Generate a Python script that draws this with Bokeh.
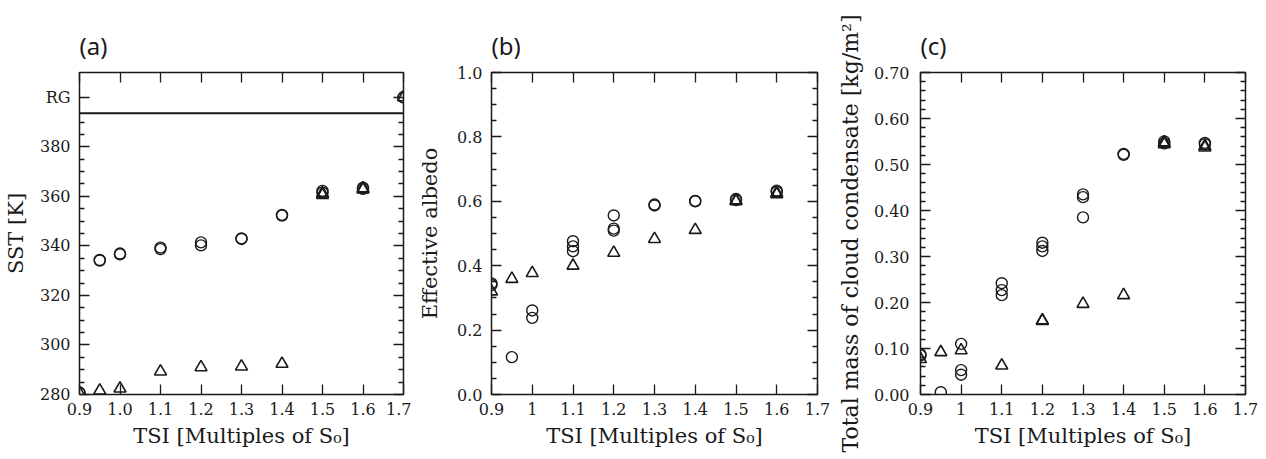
from bokeh.plotting import figure
from bokeh.layouts import row
from bokeh.models import FixedTicker, LinearAxis, Span, Range1d, CustomLabelingPolicy
from bokeh.embed import file_html
from bokeh.resources import INLINE

# ---------------- data ----------------
tsi_ticks = [0.9, 1.0, 1.1, 1.2, 1.3, 1.4, 1.5, 1.6, 1.7]
xtick_labels_a = ["0.9", "1.0", "1.1", "1.2", "1.3", "1.4", "1.5", "1.6", "1.7"]
xtick_labels_bc = ["0.9", "1", "1.1", "1.2", "1.3", "1.4", "1.5", "1.6", "1.7"]

# (a) SST [K]
sst_ticks = [280, 300, 320, 340, 360, 380, 400]
sst_tick_labels = ["280", "300", "320", "340", "360", "380", "RG"]
rg_threshold = 393.5
circ_x_a = [0.9, 0.9, 0.95, 0.95, 1.0, 1.0, 1.1, 1.1, 1.2, 1.2, 1.3, 1.3, 1.4, 1.4, 1.5, 1.5, 1.6, 1.6, 1.7, 1.7]
circ_y_a = [280.5, 280.8, 334.1, 334.3, 336.6, 336.9, 338.7, 339.3, 340.2, 341.4, 342.8, 343.0, 352.2, 352.5, 361.5, 362.2, 363.0, 363.5, 400.0, 400.0]
tri_x_a = [0.9, 0.95, 1.0, 1.1, 1.2, 1.3, 1.4, 1.5, 1.5, 1.6, 1.6, 1.7]
tri_y_a = [280.5, 281.6, 282.4, 289.3, 291.0, 291.3, 292.4, 360.5, 361.2, 362.8, 363.2, 400.0]

# (b) effective albedo
circ_x_b = [0.9, 0.9, 0.95, 1.0, 1.0, 1.1, 1.1, 1.1, 1.2, 1.2, 1.2, 1.3, 1.3, 1.4, 1.4, 1.5, 1.5, 1.6, 1.6]
circ_y_b = [0.345, 0.340, 0.116, 0.261, 0.238, 0.476, 0.460, 0.445, 0.556, 0.515, 0.509, 0.587, 0.590, 0.600, 0.601, 0.604, 0.607, 0.629, 0.633]
tri_x_b = [0.9, 0.95, 1.0, 1.1, 1.2, 1.3, 1.4, 1.5, 1.5, 1.6, 1.6]
tri_y_b = [0.320, 0.359, 0.377, 0.400, 0.440, 0.483, 0.511, 0.600, 0.603, 0.622, 0.626]

# (c) total mass of cloud condensate [kg/m2]
circ_x_c = [0.9, 0.9, 0.95, 1.0, 1.0, 1.0, 1.1, 1.1, 1.1, 1.2, 1.2, 1.2, 1.3, 1.3, 1.3, 1.4, 1.4, 1.5, 1.5, 1.6, 1.6]
circ_y_c = [0.087, 0.085, 0.005, 0.110, 0.053, 0.043, 0.242, 0.227, 0.216, 0.330, 0.322, 0.312, 0.435, 0.429, 0.385, 0.523, 0.521, 0.550, 0.546, 0.547, 0.544]
tri_x_c = [0.9, 0.95, 1.0, 1.1, 1.2, 1.2, 1.3, 1.4, 1.5, 1.5, 1.6, 1.6]
tri_y_c = [0.077, 0.092, 0.096, 0.063, 0.161, 0.160, 0.197, 0.216, 0.548, 0.544, 0.540, 0.537]

alb_ticks = [0.0, 0.2, 0.4, 0.6, 0.8, 1.0]
alb_tick_labels = ["0.0", "0.2", "0.4", "0.6", "0.8", "1.0"]
cc_ticks = [0.0, 0.1, 0.2, 0.3, 0.4, 0.5, 0.6, 0.7]
cc_tick_labels = ["0.00", "0.10", "0.20", "0.30", "0.40", "0.50", "0.60", "0.70"]

SERIF = "DejaVu Serif"
INK = "#1a1a1a"
NO_LABELS = "for (const i of indices) indices.unset(i)"


def style_axis(ax, ticker, labels, hide_labels=False, label_standoff=9, label_size="21px"):
    ax.ticker = ticker
    ax.axis_line_color = None
    ax.major_tick_in = 10
    ax.major_tick_out = 0
    ax.minor_tick_in = 5
    ax.minor_tick_out = 0
    ax.major_tick_line_color = INK
    ax.minor_tick_line_color = INK
    ax.major_tick_line_width = 1.3
    ax.minor_tick_line_width = 1.3
    ax.major_label_text_font = SERIF
    ax.major_label_text_color = INK
    ax.major_label_standoff = label_standoff
    if hide_labels:
        ax.major_label_text_font_size = "1px"
        ax.major_label_standoff = 0
        ax.major_label_policy = CustomLabelingPolicy(code=NO_LABELS)
    else:
        ax.major_label_text_font_size = "16px"
        ax.major_label_overrides = dict(zip(ticker.ticks, labels))
    ax.axis_label_text_font = SERIF
    ax.axis_label_text_font_size = label_size
    ax.axis_label_text_font_style = "normal"
    ax.axis_label_text_color = INK


def panel(title, ylabel, yr, yticks, ylabels, yminor, xlabels, cx, cy, tx, ty,
          left, frame_w, right, ylab_standoff, yaxis_standoff, ylab_size="21px"):
    p = figure(frame_width=frame_w, frame_height=322,
               min_border_left=left, min_border_right=right,
               min_border_top=72, min_border_bottom=60,
               x_range=Range1d(0.9, 1.7), y_range=Range1d(*yr),
               output_backend="svg", toolbar_location=None,
               background_fill_color="white", border_fill_color="white")
    p.grid.visible = False
    p.outline_line_color = INK
    p.outline_line_width = 1.5
    p.title.text = title
    p.title.text_font = "Noto Sans"
    p.title.text_font_size = "24px"
    p.title.text_font_style = "normal"
    p.title.text_color = INK
    p.title.align = "left"
    p.title.standoff = 14

    xt = FixedTicker(ticks=tsi_ticks, minor_ticks=[])
    yt = FixedTicker(ticks=yticks, minor_ticks=yminor)

    style_axis(p.xaxis[0], xt, xlabels, label_standoff=8)
    p.xaxis[0].axis_label = "TSI [Multiples of S\u2080]"
    p.xaxis[0].axis_label_standoff = 6
    style_axis(p.yaxis[0], yt, ylabels, label_standoff=yaxis_standoff, label_size=ylab_size)
    p.yaxis[0].axis_label = ylabel
    p.yaxis[0].axis_label_standoff = ylab_standoff

    top = LinearAxis()
    style_axis(top, FixedTicker(ticks=tsi_ticks, minor_ticks=[]), xlabels, hide_labels=True)
    p.add_layout(top, "above")
    rgt = LinearAxis()
    style_axis(rgt, FixedTicker(ticks=yticks, minor_ticks=yminor), ylabels, hide_labels=True)
    p.add_layout(rgt, "right")

    p.scatter(cx, cy, marker="circle", size=11, fill_color=None,
              line_color=INK, line_width=1.4)
    p.scatter(tx, ty, marker="triangle", size=12, fill_color=None,
              line_color=INK, line_width=1.6)
    return p


sst_minor = [v for v in range(285, 395, 5) if v % 20 != 0]
alb_minor = [round(0.05 * i, 2) for i in range(21) if i % 4 != 0]
cc_minor = [round(0.02 * i, 2) for i in range(36) if i % 5 != 0]

pa = panel("(a)", "SST [K]", (280, 410), sst_ticks, sst_tick_labels, sst_minor,
           xtick_labels_a, circ_x_a, circ_y_a, tri_x_a, tri_y_a,
           79, 324, 8, 9, 9)
pa.add_layout(Span(location=rg_threshold, dimension="width", line_color=INK, line_width=2))

pb = panel("(b)", "Effective albedo", (0.0, 1.0), alb_ticks, alb_tick_labels, alb_minor,
           xtick_labels_bc, circ_x_b, circ_y_b, tri_x_b, tri_y_b,
           80, 326, 17, 12, 9)

pc = panel("(c)", "Total mass of cloud condensate [kg/m\u00b2]", (0.0, 0.70), cc_ticks,
           cc_tick_labels, cc_minor, xtick_labels_bc, circ_x_c, circ_y_c, tri_x_c, tri_y_c,
           85, 325, 14, 8, 11, ylab_size="22px")

layout = row(pa, pb, pc)
open("out.html", "w").write(file_html(layout, INLINE))
